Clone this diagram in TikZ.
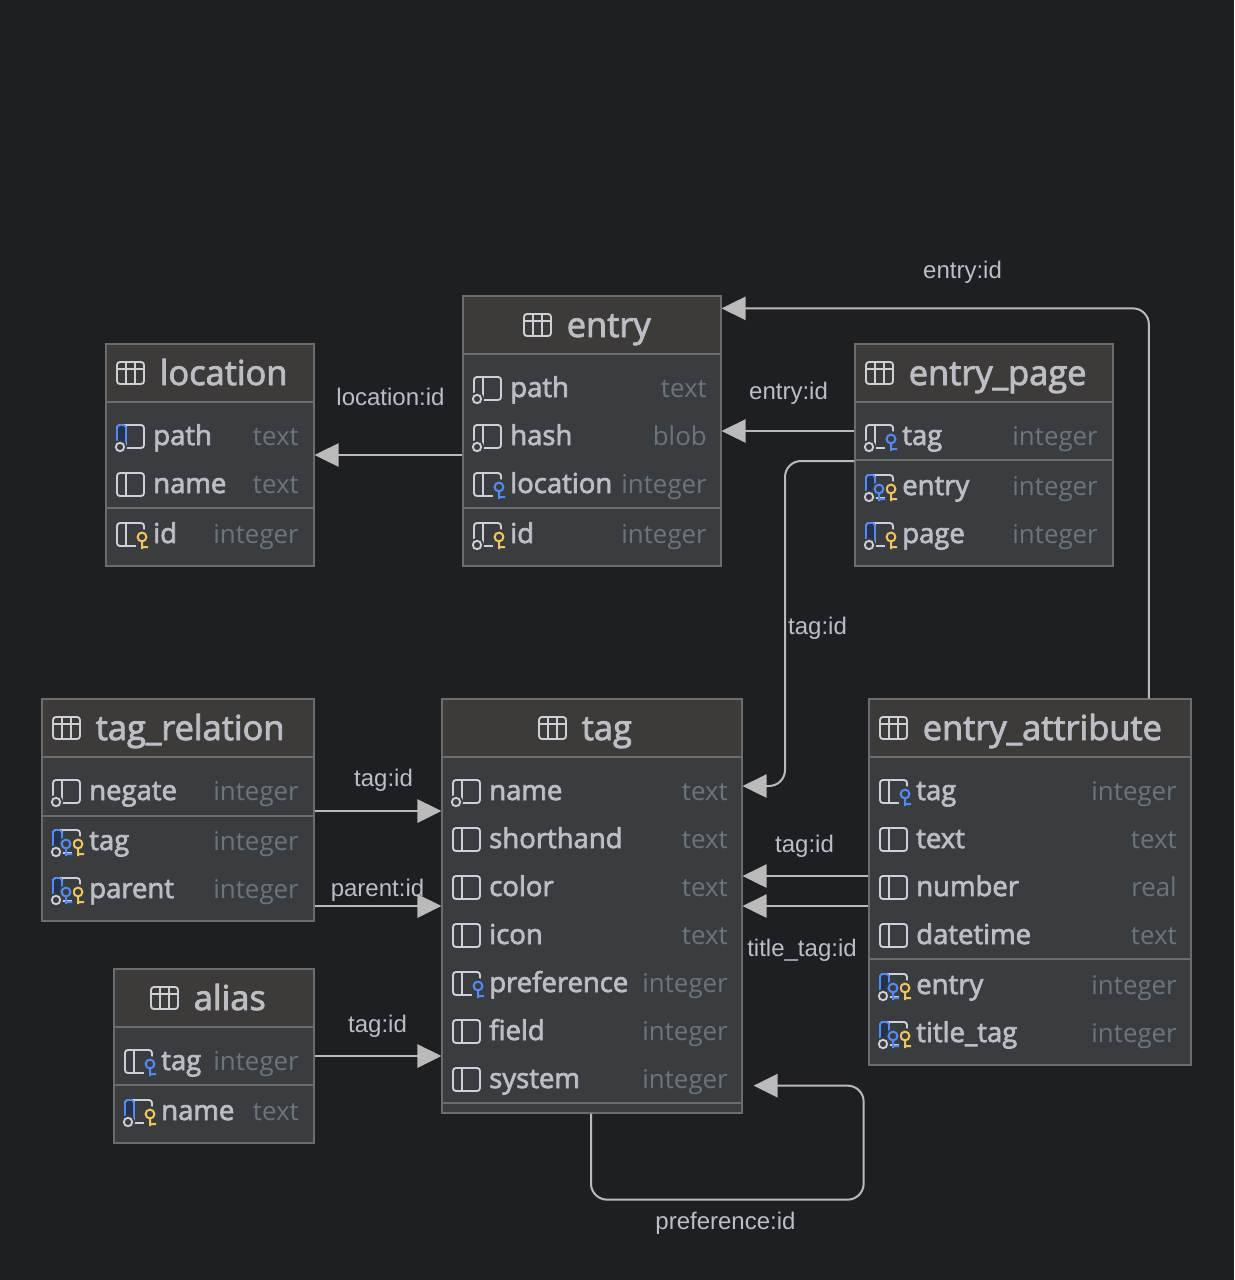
\documentclass[tikz,border=0pt]{standalone}
\usepackage{fontspec}
\usetikzlibrary{arrows.meta, calc}
\setmainfont{Open Sans}
\newfontfamily\edgefont{Liberation Sans}
\newfontfamily\namefont[FakeBold=2.5]{Open Sans}
\definecolor{canvascol}{HTML}{1E1F22}
\definecolor{rowcol}{HTML}{3A3D40}
\definecolor{headcol}{HTML}{3C3B3A}
\definecolor{edgecol}{HTML}{6A6C6E}
\definecolor{namecol}{HTML}{BCBEC4}
\definecolor{typecol}{HTML}{6F737A}
\definecolor{linkcol}{HTML}{BABABA}
\definecolor{iconcol}{HTML}{CED0D6}
\definecolor{fkcol}{HTML}{548AF7}
\definecolor{pkcol}{HTML}{F2C55C}
\definecolor{panelcol}{HTML}{25324D}
\tikzset{
  x=0.75pt, y=-0.75pt,
  tablebox/.style={rectangle, draw=edgecol, fill=rowcol, line width=0.95pt, inner sep=0pt},
  headbox/.style={rectangle, draw=edgecol, fill=headcol, line width=0.95pt, inner sep=0pt},
  sepline/.style={edgecol, line width=1.4pt},
  titletext/.style={anchor=base west, inner sep=0pt, text=namecol, font=\namefont\fontsize{25.8}{28}\selectfont},
  nametext/.style={anchor=base west, inner sep=0pt, text=namecol, font=\namefont\fontsize{20.6}{24}\selectfont},
  typetext/.style={anchor=base east, inner sep=0pt, text=typecol, font=\fontsize{19.4}{24}\selectfont},
  linktext/.style={inner sep=0pt, text=namecol, font=\edgefont\fontsize{18}{20}\selectfont},
  link/.style={-{Triangle[length=18pt, width=17.5pt]}, linkcol, line width=1.5pt, rounded corners=12pt},
  iconline/.style={iconcol, line width=1.4pt},
  % column and table glyphs, origin at the left middle
  colframe/.pic={
    \draw[iconline, rounded corners=2.2pt] (0,-11) rectangle (27,12);
    \draw[iconline] (9,-11) -- (9,12);
  },
  colpanel/.pic={
    \fill[panelcol] (0,-11) rectangle (9,7);
    \draw[fkcol, line width=1.4pt, rounded corners=2.2pt] (0,7) -- (0,-11) -- (9,-11) -- (9,7);
  },
  nullring/.pic={
    \fill[rowcol] (3,11) circle[radius=7];
    \draw[iconline] (3,11) circle[radius=4.2];
  },
  fkkey/.pic={
    \fill[rowcol] (25,3) circle[radius=8];
    \fill[rowcol] (19,3) rectangle (32,16);
    \draw[fkcol, line width=1.5pt] (25,3) circle[radius=4.4] (25,7) -- (25,15) (24,13) -- (31,13);
  },
  pkkey/.pic={
    \fill[rowcol] (25,3) circle[radius=8];
    \fill[rowcol] (19,3) rectangle (32,16);
    \draw[pkcol, line width=1.5pt] (25,3) circle[radius=4.4] (25,7) -- (25,15) (24,13) -- (31,13);
  },
  fkinner/.pic={
    \fill[rowcol] (13,3) circle[radius=7];
    \draw[fkcol, line width=1.5pt] (13,3) circle[radius=4.4] (13,7) -- (13,15) (12,13) -- (19,13);
  },
  tableglyph/.pic={
    \draw[iconline, rounded corners=2.2pt] (0,-11) rectangle (27,11);
    \draw[iconline] (0,-4) -- (27,-4) (9,-11) -- (9,11) (18,-11) -- (18,11);
  },
}
% name, left, top, right, bottom, header bottom, glyph x, title
\newcommand{\dbtable}[8]{
  \node[tablebox, minimum width={(#4-#2)*0.75pt}, minimum height={(#5-#3)*0.75pt}] (#1) at ({(#2+#4)/2},{(#3+#5)/2}) {};
  \node[headbox, minimum width={(#4-#2)*0.75pt}, minimum height={(#6-#3)*0.75pt}] (#1head) at ({(#2+#4)/2},{(#3+#6)/2}) {};
  \pic at (#7,{(#3+#6)/2}) {tableglyph};
  \node[titletext] (#1title) at (#7+42.5,{(#3+#6)/2+12}) {#8};
}
% table, glyph x, name x, type right, rows
\newcommand{\dbrows}[5]{
  \foreach \rowid/\ypos/\lbl/\typ/\parts in {#5} {
    \pic at (#2,\ypos) {colframe};
    \foreach \part in \parts { \pic at (#2,\ypos) {\part}; }
    \node[nametext] (#1-\rowid) at (#3,\ypos+9) {\lbl};
    \node[typetext] (#1-\rowid-type) at (#4,\ypos+9) {\typ};
  }
}
\newcommand{\dbsep}[2]{\draw[sepline] (#1.west |- 0,#2) -- (#1.east |- 0,#2);}
\begin{document}
\begin{tikzpicture}
  \fill[canvascol] (0,0) rectangle (1234,1280);
  \useasboundingbox (0,0) rectangle (1234,1280);

  \dbtable{location}{106}{344}{314}{566}{402}{117}{location}
  \dbrows{location}{117}{153}{299}{path/436/path/text/{colpanel,nullring}, name/484/name/text/{}, id/534/id/integer/{pkkey}}
  \dbsep{location}{508}

  \dbtable{entry}{463}{296}{721}{566}{354}{524}{entry}
  \dbrows{entry}{474}{510}{707}{path/388/path/text/{nullring}, hash/436/hash/blob/{nullring}, loc/484/location/integer/{fkkey}, id/534/id/integer/{nullring,pkkey}}
  \dbsep{entry}{508}

  \dbtable{entrypage}{855}{344}{1113}{566}{402}{866}{entry\_page}
  \dbrows{entrypage}{866}{902}{1098}{tag/436/tag/integer/{nullring,fkkey}, entry/486/entry/integer/{colpanel,pkkey,fkinner,nullring}, page/534/page/integer/{colpanel,pkkey,nullring}}
  \dbsep{entrypage}{460}

  \dbtable{tagrelation}{42}{699}{314}{921}{757}{53}{tag\_relation}
  \dbrows{tagrelation}{53}{89}{299}{negate/791/negate/integer/{nullring}, tag/841/tag/integer/{colpanel,pkkey,fkinner,nullring}, parent/889/parent/integer/{colpanel,pkkey,fkinner,nullring}}
  \dbsep{tagrelation}{816}

  \dbtable{tag}{442}{699}{742}{1113}{757}{539}{tag}
  \dbrows{tag}{453}{489}{728}{name/791/name/text/{nullring}, shorthand/839/shorthand/text/{}, color/887/color/text/{}, icon/935/icon/text/{}, preference/983/preference/integer/{fkkey}, field/1031/field/integer/{}, system/1079/system/integer/{}}
  \dbsep{tag}{1103}

  \dbtable{entryattr}{869}{699}{1191}{1065}{757}{880}{entry\_attribute}
  \dbrows{entryattr}{880}{916}{1177}{tag/791/tag/integer/{fkkey}, text/839/text/text/{}, number/887/number/real/{}, datetime/935/datetime/text/{}, entry/985/entry/integer/{colpanel,pkkey,fkinner,nullring}, titletag/1033/title\_tag/integer/{colpanel,pkkey,fkinner,nullring}}
  \dbsep{entryattr}{959}

  \dbtable{alias}{114}{969}{314}{1143}{1027}{151}{alias}
  \dbrows{alias}{125}{161}{299}{tag/1061/tag/integer/{fkkey}, name/1111/name/text/{colpanel,pkkey,nullring}}
  \dbsep{alias}{1085}

  \draw[link] (entry.west |- location.east) -- (location.east);
  \draw[link] (entrypage.west |- entry.east) -- (entry.east);
  \draw[link] ($(entryattr.north west)+(280.5,0)$) |- ($(entry.north east)+(0,13)$);
  \draw[link] (entrypage.west |- 0,461) -- (785,461) -- (785,786) -- (tag.east |- 0,786);
  \draw[link] (tagrelation.east |- 0,811) -- (tag.west |- 0,811);
  \draw[link] (tagrelation.east |- tag.west) -- (tag.west);
  \draw[link] (alias.east |- 0,1056) -- (tag.west |- 0,1056);
  \draw[link] (entryattr.west |- 0,876) -- (tag.east |- 0,876);
  \draw[link] (entryattr.west |- tag.east) -- (tag.east);
  \draw[link] ($(tag.south)+(-1,0)$) -- ($(tag.south)+(-1,86)$) -- ($(tag.south east)+(121,86)$) -- ($(tag.south east)+(121,-28)$) -- ($(tag.south east)+(11,-28)$);

  \node[linktext] (lblentrytop) at (962.5,272.5) {entry:id};
  \node[linktext] (lbllocation) at (390.5,397) {location:id};
  \node[linktext] (lblentry) at (788.5,393) {entry:id};
  \node[linktext] (lbltagpage) at (817.5,628) {tag:id};
  \node[linktext] (lbltagrel) at (383.5,780) {tag:id};
  \node[linktext] (lblparent) at (377.5,890) {parent:id};
  \node[linktext] (lblalias) at (377.5,1026) {tag:id};
  \node[linktext] (lbltagattr) at (804.5,846) {tag:id};
  \node[linktext] (lbltitletag) at (802,950) {title\_tag:id};
  \node[linktext] (lblpref) at (725.5,1223) {preference:id};
\end{tikzpicture}
\end{document}
